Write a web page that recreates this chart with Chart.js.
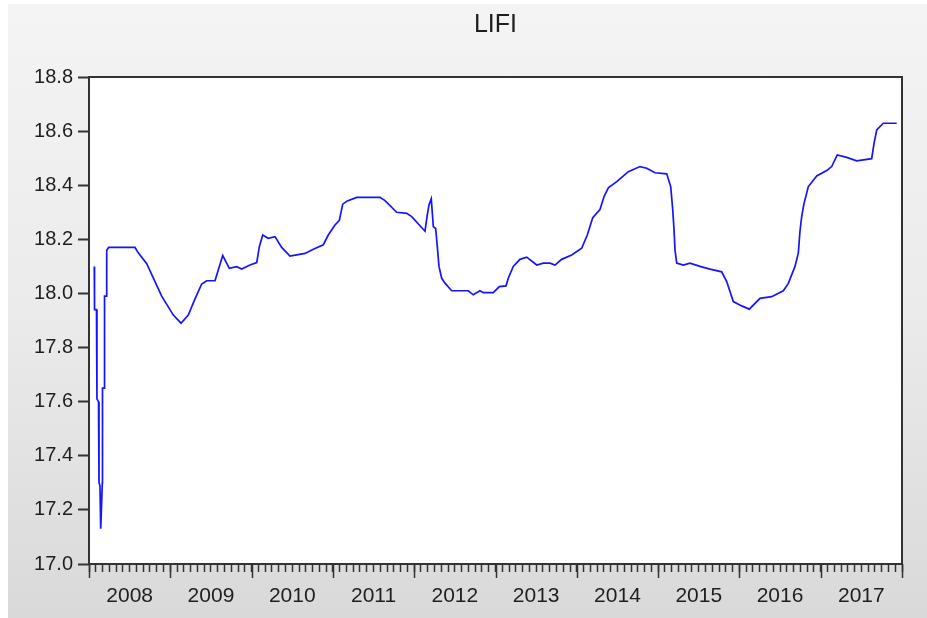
<!DOCTYPE html>
<html>
<head>
<meta charset="utf-8">
<title>LIFI</title>
<script src="https://cdn.jsdelivr.net/npm/chart.js@4.4.0/dist/chart.umd.min.js"></script>
<style>
  html, body { margin: 0; padding: 0; background: #ffffff; }
  #wrap { position: relative; width: 927px; height: 618px; overflow: hidden; }
  #bg {
    position: absolute; left: 8px; top: 4px; right: 0; bottom: 0;
    background: linear-gradient(to bottom, #f4f4f4 0%, #ebebeb 50%, #d9d9d9 100%);
  }
  #chart { position: absolute; left: 0; top: 0; }
</style>
</head>
<body>
<div id="wrap">
  <div id="bg"></div>
  <canvas id="chart" width="927" height="618"></canvas>
</div>
<script>
// ===== Data (decimal year, value) =====
const dates = [
  2008.065, 2008.068, 2008.092, 2008.098, 2008.117, 2008.123, 2008.135, 2008.144,
  2008.164, 2008.166, 2008.188, 2008.191, 2008.215, 2008.218, 2008.242, 2008.566,
  2008.606, 2008.710, 2008.894, 2009.037, 2009.132, 2009.221, 2009.304, 2009.386,
  2009.448, 2009.550, 2009.590, 2009.645, 2009.726, 2009.817, 2009.878, 2009.980,
  2010.063, 2010.095, 2010.137, 2010.205, 2010.288, 2010.370, 2010.472, 2010.657,
  2010.759, 2010.882, 2010.943, 2011.026, 2011.079, 2011.121, 2011.177, 2011.293,
  2011.579, 2011.641, 2011.785, 2011.908, 2011.969, 2012.133, 2012.161, 2012.182,
  2012.210, 2012.235, 2012.264, 2012.284, 2012.305, 2012.338, 2012.379, 2012.461,
  2012.665, 2012.727, 2012.809, 2012.850, 2012.973, 2013.047, 2013.129, 2013.157,
  2013.219, 2013.301, 2013.384, 2013.507, 2013.588, 2013.670, 2013.732, 2013.814,
  2013.937, 2014.060, 2014.129, 2014.196, 2014.285, 2014.335, 2014.388, 2014.491,
  2014.634, 2014.777, 2014.860, 2014.962, 2015.106, 2015.155, 2015.180, 2015.196,
  2015.208, 2015.229, 2015.310, 2015.392, 2015.515, 2015.638, 2015.782, 2015.844,
  2015.925, 2016.028, 2016.122, 2016.253, 2016.397, 2016.540, 2016.602, 2016.684,
  2016.725, 2016.745, 2016.766, 2016.795, 2016.848, 2016.951, 2017.074, 2017.135,
  2017.204, 2017.320, 2017.443, 2017.627, 2017.656, 2017.689, 2017.770, 2017.935
];

const lifi = [
  18.10, 17.94, 17.94, 17.61, 17.60, 17.30, 17.29, 17.13,
  17.30, 17.65, 17.65, 17.99, 17.99, 18.16, 18.17, 18.17,
  18.15, 18.11, 17.99, 17.92, 17.89, 17.92, 17.98, 18.035,
  18.047, 18.047, 18.087, 18.14, 18.093, 18.099, 18.09, 18.105,
  18.114, 18.173, 18.216, 18.204, 18.21, 18.17, 18.138, 18.148,
  18.163, 18.18, 18.216, 18.253, 18.27, 18.33, 18.342, 18.355,
  18.355, 18.343, 18.30, 18.296, 18.284, 18.23, 18.29, 18.327,
  18.35, 18.247, 18.24, 18.173, 18.10, 18.056, 18.038, 18.01,
  18.01, 17.995, 18.01, 18.003, 18.003, 18.025, 18.028, 18.056,
  18.10, 18.126, 18.134, 18.105, 18.112, 18.112, 18.105, 18.126,
  18.142, 18.167, 18.216, 18.28, 18.31, 18.358, 18.39, 18.413,
  18.45, 18.469, 18.463, 18.446, 18.442, 18.395, 18.31, 18.235,
  18.16, 18.112, 18.105, 18.112, 18.10, 18.09, 18.08, 18.044,
  17.97, 17.954, 17.942, 17.982, 17.988, 18.01, 18.037, 18.10,
  18.15, 18.23, 18.284, 18.333, 18.395, 18.434, 18.454, 18.469,
  18.512, 18.503, 18.49, 18.498, 18.555, 18.604, 18.629, 18.629
];

const yearLabels = ["2008", "2009", "2010", "2011", "2012", "2013", "2014", "2015", "2016", "2017"];
const titleText = "LIFI";
const firstYear = 2008;
const lastYear = 2018;

// monthly tick positions
const monthTicks = [];
for (let i = 0; i <= (lastYear - firstYear) * 12; i++) {
  monthTicks.push(firstYear + i / 12);
}

const axisColor = "#333333";
const textColor = "#1e1e1e";
const fontFamily = "'Liberation Sans', Arial, sans-serif";

// ===== Plugins =====
// white plot area, frame, long year ticks and a title centred on the plot
const plotFrame = {
  id: "plotFrame",
  beforeDatasetsDraw(chart) {
    const { ctx, chartArea } = chart;
    ctx.save();
    ctx.fillStyle = "#ffffff";
    ctx.fillRect(chartArea.left, chartArea.top, chartArea.right - chartArea.left, chartArea.bottom - chartArea.top);
    ctx.restore();
  },
  afterDraw(chart) {
    const { ctx, chartArea } = chart;
    const xs = chart.scales.x;
    ctx.save();
    ctx.strokeStyle = axisColor;
    ctx.lineWidth = 2;
    ctx.strokeRect(chartArea.left, chartArea.top, chartArea.right - chartArea.left, chartArea.bottom - chartArea.top);

    ctx.lineWidth = 1.5;
    for (let y = firstYear; y <= lastYear; y++) {
      const px = Math.round(xs.getPixelForValue(y)) + 0.5;
      ctx.beginPath();
      ctx.moveTo(px, chartArea.bottom);
      ctx.lineTo(px, chartArea.bottom + 14);
      ctx.stroke();
    }

    ctx.fillStyle = textColor;
    ctx.font = "25px " + fontFamily;
    ctx.textAlign = "center";
    ctx.textBaseline = "middle";
    ctx.fillText(titleText, (chartArea.left + chartArea.right) / 2, 25);
    ctx.restore();
  },
};

// ===== Chart =====
const ctx = document.getElementById("chart");
const chart = new Chart(ctx, {
  type: "line",
  data: {
    datasets: [
      {
        label: titleText,
        data: dates.map((d, i) => ({ x: d, y: lifi[i] })),
        borderColor: "#1414ff",
        borderWidth: 1.7,
        pointRadius: 0,
        tension: 0,
        fill: false,
      },
    ],
  },
  options: {
    responsive: false,
    animation: false,
    layout: { padding: { left: 0, right: 25, top: 77, bottom: 0 } },
    plugins: {
      legend: { display: false },
      tooltip: { enabled: false },
      title: { display: false },
    },
    scales: {
      x: {
        type: "linear",
        min: firstYear,
        max: lastYear,
        afterBuildTicks: (scale) => {
          scale.ticks = monthTicks.map((v) => ({ value: v }));
        },
        afterFit: (scale) => {
          scale.height = 54;
        },
        ticks: {
          autoSkip: false,
          maxRotation: 0,
          padding: 12,
          color: textColor,
          font: { family: fontFamily, size: 21 },
          callback: (value, index) => (index % 12 === 6 ? yearLabels[Math.floor(index / 12)] : ""),
        },
        grid: {
          drawOnChartArea: false,
          drawTicks: true,
          tickLength: 8,
          tickColor: axisColor,
          tickWidth: 1.5,
        },
        border: { display: false },
      },
      y: {
        min: 17.0,
        max: 18.8,
        afterFit: (scale) => {
          scale.width = 89;
        },
        ticks: {
          stepSize: 0.2,
          padding: 5,
          color: textColor,
          font: { family: fontFamily, size: 20 },
          callback: (value) => value.toFixed(1),
        },
        grid: {
          drawOnChartArea: false,
          drawTicks: true,
          tickLength: 11,
          tickColor: axisColor,
          tickWidth: 2,
        },
        border: { display: false },
      },
    },
  },
  plugins: [plotFrame],
});
</script>
</body>
</html>
